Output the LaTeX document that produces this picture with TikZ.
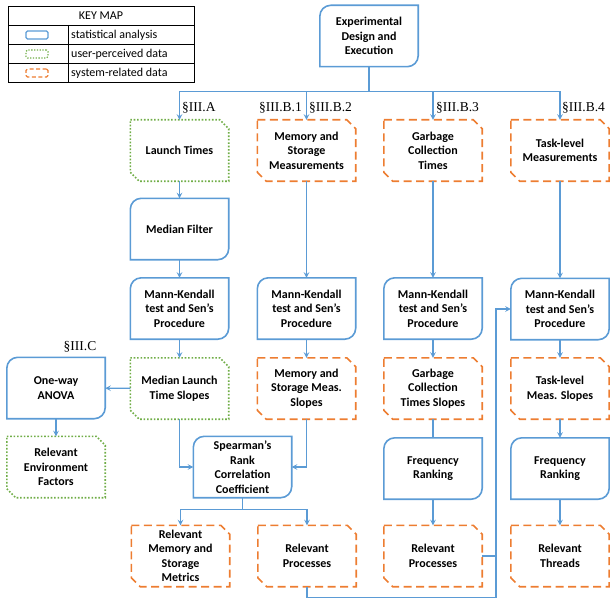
\documentclass[tikz,border=0pt]{standalone}
\usepackage{fontspec}
\setmainfont{Carlito}
\newfontfamily\secfont{Liberation Serif}
\usetikzlibrary{positioning}
\definecolor{statblue}{HTML}{5B9BD5}
\definecolor{sysorange}{HTML}{ED7D31}
\definecolor{usergreen}{HTML}{70AD47}

\begin{document}
\begin{tikzpicture}[
    x=1pt, y=-1pt,
    every node/.style={font=\fontsize{12}{14.5}\selectfont\bfseries},
    boxbase/.style={minimum width=98pt, minimum height=61pt, inner sep=0pt, align=center},
    statline/.style={statblue, line width=1.6pt},
    userline/.style={usergreen, line width=1.6pt, dash pattern=on 1.6pt off 1.8pt},
    sysline/.style={sysorange, line width=1.6pt, dash pattern=on 8pt off 4.5pt},
    statbox/.style={boxbase, append after command={\pgfextra{\draw[statline]
        ([yshift=-11pt]\tikzlastnode.north west) arc[start angle=180, end angle=90, radius=11pt]
        -- (\tikzlastnode.north east) -- ([yshift=11pt]\tikzlastnode.south east)
        arc[start angle=0, end angle=-90, radius=11pt] -- (\tikzlastnode.south west) -- cycle;}}},
    databox/.style={boxbase, append after command={\pgfextra{\draw[#1]
        (\tikzlastnode.north west) -- ([xshift=-9pt]\tikzlastnode.north east)
        -- ([yshift=-9pt]\tikzlastnode.north east) -- (\tikzlastnode.south east)
        -- ([xshift=9pt]\tikzlastnode.south west) -- ([yshift=9pt]\tikzlastnode.south west) -- cycle;}}},
    userbox/.style={databox=userline},
    sysbox/.style={databox=sysline},
    seclabel/.style={font=\secfont\fontsize{13.5}{16}\selectfont, inner sep=0pt},
    keytext/.style={font=\fontsize{12}{13}\selectfont, inner sep=0pt},
    keyicon/.style={minimum width=22pt, minimum height=8pt, inner sep=0pt, rounded corners=1.5pt, line width=1.3pt},
    arrow/.style={->, >=stealth, statblue, line width=1.4pt},
    link/.style={statblue, line width=1.4pt}
  ]
  \useasboundingbox (0,0) rectangle (610,599);

  % Key map
  \draw[line width=0.8pt] (8,6) rectangle (194,82);
  \draw[line width=0.8pt] (8,25) -- (194,25) (8,44) -- (194,44) (8,63) -- (194,63) (68,25) -- (68,82);
  \node[keytext] (keytitle) at (101,15.5) {KEY MAP};
  \node[keyicon, draw=statblue] (iconstat) at (37,35) {};
  \node[keyicon, draw=usergreen, dash pattern=on 1.3pt off 1.5pt] (iconuser) at (37,54) {};
  \node[keyicon, draw=sysorange, dash pattern=on 4pt off 2.5pt] (iconsys) at (37,73) {};
  \node[keytext, anchor=west] (keystat) at (71,35) {statistical analysis};
  \node[keytext, anchor=west] (keyuser) at (71,54) {user-perceived data};
  \node[keytext, anchor=west] (keysys) at (71,73) {system-related data};

  % Nodes
  \node[statbox] (design) at (369,36) {Experimental\\Design and\\Execution};
  \node[userbox] (launch) at (179.5,150.5) {Launch Times};
  \node[sysbox] (memory) at (306.5,150.5) {Memory and\\Storage\\Measurements};
  \node[sysbox] (gc) at (433,150.5) {Garbage\\Collection\\Times};
  \node[sysbox] (task) at (560,150.5) {Task-level\\Measurements};
  \node[statbox] (filter) at (179.5,229) {Median Filter};
  \node[statbox] (mk1) at (179.5,308.5) {Mann-Kendall\\test and Sen’s\\Procedure};
  \node[statbox] (mk2) at (306.5,308.5) {Mann-Kendall\\test and Sen’s\\Procedure};
  \node[statbox] (mk3) at (433,308.5) {Mann-Kendall\\test and Sen’s\\Procedure};
  \node[statbox] (mk4) at (560,309) {Mann-Kendall\\test and Sen’s\\Procedure};
  \node[statbox] (anova) at (56,388) {One-way\\ANOVA};
  \node[userbox] (launchslopes) at (179.5,388.5) {Median Launch\\Time Slopes};
  \node[sysbox] (memslopes) at (306.5,388.5) {Memory and\\Storage Meas.\\Slopes};
  \node[sysbox] (gcslopes) at (433,388.5) {Garbage\\Collection\\Times Slopes};
  \node[sysbox] (taskslopes) at (560,388.5) {Task-level\\Meas. Slopes};
  \node[userbox] (envfactors) at (56,467) {Relevant\\Environment\\Factors};
  \node[statbox] (spearman) at (242.5,467) {Spearman’s\\Rank\\Correlation\\Coefficient};
  \node[statbox] (freq3) at (433,468.5) {Frequency\\Ranking};
  \node[statbox] (freq4) at (560,468.5) {Frequency\\Ranking};
  \node[sysbox] (relmem) at (180.5,556) {Relevant\\Memory and\\Storage\\Metrics};
  \node[sysbox] (relproc2) at (307,556) {Relevant\\Processes};
  \node[sysbox] (relproc3) at (433,556) {Relevant\\Processes};
  \node[sysbox] (threads) at (560,556) {Relevant\\Threads};

  % Section labels
  \node[seclabel, anchor=base west] (secA) at (182,112) {§III.A};
  \node[seclabel, anchor=base east] (secB1) at (302,112) {§III.B.1};
  \node[seclabel, anchor=base west] (secB2) at (309,112) {§III.B.2};
  \node[seclabel, anchor=base west] (secB3) at (436,112) {§III.B.3};
  \node[seclabel, anchor=base west] (secB4) at (562,112) {§III.B.4};
  \node[seclabel, anchor=base] (secC) at (80,350) {§III.C};

  % Arrows
  \coordinate (split) at ([yshift=-25pt]design.south);
  \coordinate (join) at ([yshift=-12pt]spearman.south);
  \coordinate (bus) at ([xshift=-15pt]mk4.west);
  \draw[arrow] (design.south) -- (split) -| (launch.north);
  \draw[arrow] (design.south) -- (split) -| (memory.north);
  \draw[arrow] (design.south) -- (split) -| (gc.north);
  \draw[arrow] (design.south) -- (split) -| (task.north);
  \draw[arrow] (launch) -- (filter);
  \draw[arrow] (filter) -- (mk1);
  \draw[arrow] (mk1) -- (launchslopes);
  \draw[arrow] (launchslopes) -- (anova);
  \draw[arrow] (anova) -- (envfactors);
  \draw[arrow] (memory) -- (mk2);
  \draw[arrow] (mk2) -- (memslopes);
  \draw[arrow] (gc) -- (mk3);
  \draw[arrow] (mk3) -- (gcslopes);
  \draw[link] (gcslopes) -- (freq3);
  \draw[arrow] (freq3) -- (relproc3);
  \draw[arrow] (task) -- (mk4);
  \draw[arrow] (mk4) -- (taskslopes);
  \draw[arrow] (taskslopes) -- (freq4);
  \draw[arrow] (freq4) -- (threads);
  \draw[arrow] (launchslopes.south) |- (spearman.west);
  \draw[arrow] (memslopes.south) |- (spearman.east);
  \draw[arrow] (spearman.south) -- (join) -| (relmem.north);
  \draw[arrow] (spearman.south) -- (join) -| (relproc2.north);
  \draw[arrow] (relproc2.south) -- ++(0,11) -| (bus) -- (mk4.west);
  \draw[link] (relproc3.east) -- (relproc3.east -| bus);

\end{tikzpicture}
\end{document}
